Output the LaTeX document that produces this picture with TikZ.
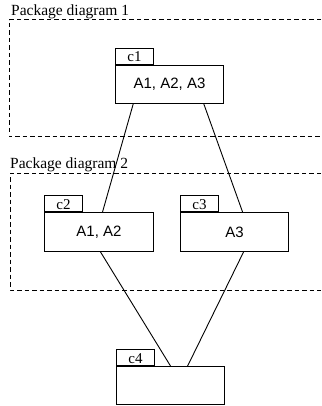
\documentclass[tikz,border=0pt]{standalone}
\usepackage{fontspec}
\setmainfont{Liberation Serif}
\newfontfamily\boxfont{Liberation Sans}
\usetikzlibrary{calc}
\begin{document}
\begin{tikzpicture}[x=1pt,y=-1pt,
  pkgbody/.style={draw, line width=1pt, minimum width=108pt, minimum height=38pt, inner sep=0pt, anchor=north west, font=\boxfont\fontsize{15}{15}\selectfont},
  pkgtab/.style={draw, line width=1pt, minimum width=38pt, minimum height=16pt, inner sep=0pt, text height=11pt, text depth=0pt, anchor=south west, font=\fontsize{15}{15}\selectfont},
  pkgframe/.style={line width=1pt, dash pattern=on 4.5pt off 3pt},
  title/.style={anchor=base west, inner sep=0pt, font=\fontsize{15.5}{16}\selectfont},
  conn/.style={line width=0.9pt}]
\useasboundingbox (0,0) rectangle (321,406);
% frames
\draw[pkgframe] (321,20) -- (9,20) -- (9,137) -- (321,137);
\draw[pkgframe] (321,173) -- (10,173) -- (10,290) -- (321,290);
\node[title] (t1) at (11,16) {Package diagram 1};
\node[title] (t2) at (10,168) {Package diagram 2};
% packages
\node[pkgbody] (c1) at (115,65) {A1, A2, A3};
\node[pkgtab] (c1tab) at (115,65) {c1};
\node[pkgbody, minimum width=109pt, minimum height=39pt] (c2) at (44,212) {A1, A2};
\node[pkgtab] (c2tab) at (44,212) {c2};
\node[pkgbody, minimum height=39pt] (c3) at (180,212) {A3};
\node[pkgtab] (c3tab) at (180,212) {c3};
\node[pkgbody, minimum height=38pt] (c4) at (116,366) {};
\node[pkgtab] (c4tab) at (116,366) {c4};
% connectors
\draw[conn] ($(c1.south west)!0.167!(c1.south east)$) -- ($(c2.north west)!0.532!(c2.north east)$);
\draw[conn] ($(c1.south west)!0.815!(c1.south east)$) -- ($(c3.north west)!0.574!(c3.north east)$);
\draw[conn] ($(c2.south west)!0.514!(c2.south east)$) -- ($(c4.north west)!0.5!(c4.north east)$);
\draw[conn] ($(c3.south west)!0.583!(c3.south east)$) -- ($(c4.north west)!0.657!(c4.north east)$);
\end{tikzpicture}
\end{document}
